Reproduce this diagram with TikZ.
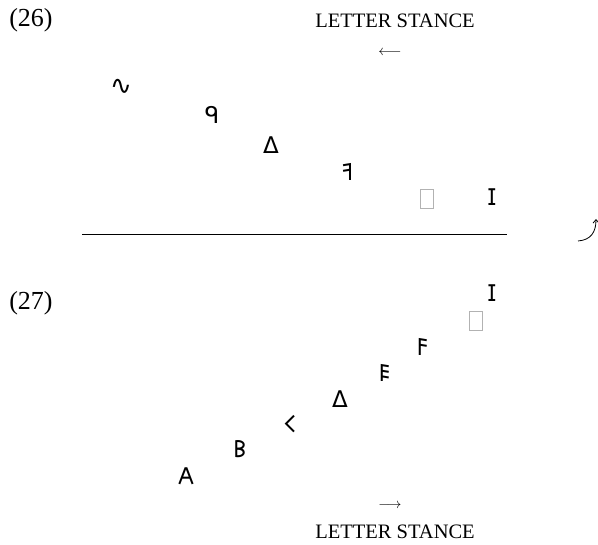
\documentclass[tikz,border=0pt]{standalone}
\usepackage{fontspec}
\usepackage{graphicx}
\usetikzlibrary{arrows.meta}
\setmainfont{Liberation Serif}
\newfontfamily\oi{DejaVu Sans}
\tikzset{
  numsty/.style={font=\fontsize{26}{28}\selectfont, inner sep=0pt},
  capsty/.style={font=\fontsize{20.5}{24}\selectfont, inner sep=0pt},
  arrsty/.style={font=\fontsize{15}{18}\selectfont, inner sep=0pt},
  glsty/.style={font=\oi\fontsize{23}{25}\selectfont, inner sep=0pt},
  tofusty/.style={draw=gray!60, line width=0.8pt, minimum width=13pt, minimum height=19pt, inner sep=0pt},
}
\begin{document}
\begin{tikzpicture}[x=1pt,y=-1pt]
\useasboundingbox (0,0) rectangle (598,545);
% (26)
\node[numsty] (n26) at (31,20) {(26)};
\node[capsty] (ls1) at (395,21) {LETTER STANCE};
\node[arrsty] (ar1) at (390,53) {$\longleftarrow$};
\node[glsty,font=\oi\fontsize{26}{28}\selectfont] (a1) at (121,87) {∿};
\node[glsty] (a2) at (212,115) {ᑫ};
\node[glsty] (a3) at (271,145) {Δ};
\node[glsty] (a4) at (347,172) {\reflectbox{𐌅}};
\node[tofusty] (a5) at (427,199) {};
\node[glsty] (a6) at (492,197) {𐌆};
\coordinate (l1) at (82,234);
\coordinate (l2) at (507,234);
\draw[line width=0.8pt] (l1) -- (l2);
\coordinate (c1) at (578,241);
\coordinate (c2) at (596,219);
\draw[line width=0.8pt,-{Straight Barb[length=3.5pt,width=6pt]}] (c1) .. controls (591,240) and (596,232) .. (c2);
% (27)
\node[numsty] (n27) at (31,303) {(27)};
\node[glsty] (b8) at (492,293) {𐌆};
\node[tofusty] (b7) at (476,321) {};
\node[glsty] (b6) at (423,347) {𐌅};
\node[glsty] (b5) at (385,373) {𐌄};
\node[glsty] (b4) at (340,399) {Δ};
\node[glsty] (b3) at (290,424) {𐌂};
\node[glsty] (b2) at (240,449) {𐌁};
\node[glsty] (b1) at (186,476) {𐌀};
\node[arrsty] (ar2) at (390,506) {$\longrightarrow$};
\node[capsty] (ls2) at (395,532) {LETTER STANCE};
\end{tikzpicture}
\end{document}
